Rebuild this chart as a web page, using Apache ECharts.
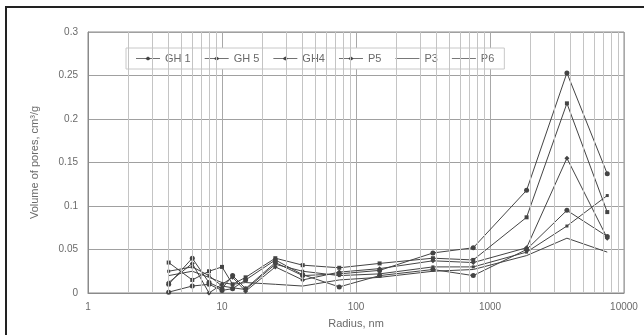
<!DOCTYPE html>
<html>
<head>
<meta charset="utf-8">
<script src="https://cdn.jsdelivr.net/npm/echarts@6/dist/echarts.min.js"></script>
<style>
	html, body { margin: 0; padding: 0; background: #fff; }
	#chart { width: 644px; height: 335px; }
</style>
</head>
<body>
<div id="chart"></div>
<script>
	// radius, nm
	const radius = [4, 6, 8, 10, 12, 15, 25, 40, 75, 150, 375, 750, 1875, 3750, 7500];
	// volume of pores, cm3/g
	const gh1 = [0.010, 0.040, 0.012, 0.005, 0.020, 0.005, 0.035, 0.020, 0.022, 0.026, 0.046, 0.052, 0.118, 0.253, 0.137];
	const gh5 = [0.035, 0.015, 0.025, 0.030, 0.010, 0.018, 0.040, 0.032, 0.029, 0.034, 0.040, 0.038, 0.087, 0.218, 0.093];
	const gh4 = [0.012, 0.034, 0.000, 0.010, 0.018, 0.002, 0.030, 0.015, 0.024, 0.028, 0.037, 0.035, 0.052, 0.155, 0.063];
	const p5 = [0.001, 0.008, 0.010, 0.003, 0.005, 0.015, 0.038, 0.021, 0.007, 0.020, 0.027, 0.020, 0.050, 0.095, 0.065];
	const p3 = [0.020, 0.025, 0.018, 0.012, 0.010, 0.012, 0.010, 0.008, 0.015, 0.018, 0.025, 0.027, 0.043, 0.063, 0.047];
	const p6 = [0.025, 0.030, 0.020, 0.008, 0.006, 0.004, 0.033, 0.025, 0.020, 0.022, 0.030, 0.030, 0.047, 0.077, 0.112];
	const seriesNames = ["GH 1", "GH 5", "GH4", "P5", "P3", "P6"];
	// minor log grid lines
	const minorGrid = [2, 3, 4, 5, 6, 7, 8, 9, 20, 30, 40, 50, 60, 70, 80, 90,
		200, 300, 400, 500, 600, 700, 800, 900, 2000, 3000, 4000, 5000, 6000, 7000, 8000, 9000];

	const pair = (ys) => radius.map((x, i) => [x, ys[i]]);
	const lineCol = "#444";
	const textCol = "#6a6a6a";

	let myChart = echarts.init(document.getElementById("chart"));

	function makeSeries(name, ys, symbol, size) {
		return {
			name: name,
			type: "line",
			data: pair(ys),
			symbol: symbol,
			symbolSize: size,
			showSymbol: symbol !== "none",
			lineStyle: { color: lineCol, width: 1 },
			itemStyle: { color: lineCol },
			animation: false
		};
	}

	let option = {
		backgroundColor: "#fff",
		animation: false,
		grid: { left: 88, right: 20, top: 32, bottom: 42, show: true, borderColor: "#8a8a8a", borderWidth: 1 },
		legend: {
			data: seriesNames.map(n => ({
				name: n,
				icon: (n === "P3" || n === "P6") ? "path://M0,5 L20,5 L20,5.6 L0,5.6 Z" : "path://M0,5 L8,5 L10,3.5 L12,5 L20,5 L20,5.6 L12,5.6 L10,7 L8,5.6 L0,5.6 Z"
			})),
			left: 126,
			top: 48,
			backgroundColor: "#fff",
			borderColor: "#c8c8c8",
			borderWidth: 1,
			padding: [5, 10, 5, 10],
			itemWidth: 24,
			itemHeight: 7,
			itemGap: 14,
			textStyle: { color: textCol, fontSize: 11, fontFamily: "Liberation Sans" }
		},
		xAxis: {
			type: "log",
			logBase: 10,
			min: 1,
			max: 10000,
			name: "Radius, nm",
			nameLocation: "middle",
			nameGap: 25,
			nameTextStyle: { color: textCol, fontSize: 11, fontFamily: "Liberation Sans" },
			axisLine: { show: true, lineStyle: { color: "#8a8a8a" } },
			axisTick: { show: false },
			axisLabel: {
				color: textCol, fontSize: 10, fontFamily: "Liberation Sans", margin: 9,
				formatter: v => String(Math.round(v))
			},
			splitLine: { show: true, lineStyle: { color: "#a8a8a8", width: 1 } }
		},
		yAxis: {
			type: "value",
			min: 0,
			max: 0.3,
			interval: 0.05,
			name: "Volume of pores, cm³/g",
			nameLocation: "middle",
			nameGap: 48,
			nameTextStyle: { color: textCol, fontSize: 11, fontFamily: "Liberation Sans" },
			axisLine: { show: true, lineStyle: { color: "#8a8a8a" } },
			axisTick: { show: false },
			axisLabel: { color: textCol, fontSize: 10, fontFamily: "Liberation Sans", margin: 10 },
			splitLine: { show: true, lineStyle: { color: "#a0a0a0", width: 1 } }
		},
		graphic: [{
			type: "rect",
			shape: { x: 6, y: 7, width: 800, height: 500 },
			style: { fill: null, stroke: "#222", lineWidth: 2 },
			silent: true
		}],
		series: [
			{
				type: "line",
				data: [],
				silent: true,
				markLine: {
					silent: true,
					symbol: "none",
					label: { show: false },
					lineStyle: { color: "#c4c4c4", type: "solid", width: 1 },
					data: minorGrid.map(v => ({ xAxis: v }))
				},
				z: 1
			},
			makeSeries("GH 1", gh1, "circle", 5),
			makeSeries("GH 5", gh5, "rect", 4),
			makeSeries("GH4", gh4, "diamond", 5),
			makeSeries("P5", p5, "circle", 5),
			makeSeries("P3", p3, "none", 0),
			makeSeries("P6", p6, "rect", 3)
		]
	};

	myChart.setOption(option);
</script>
</body>
</html>
